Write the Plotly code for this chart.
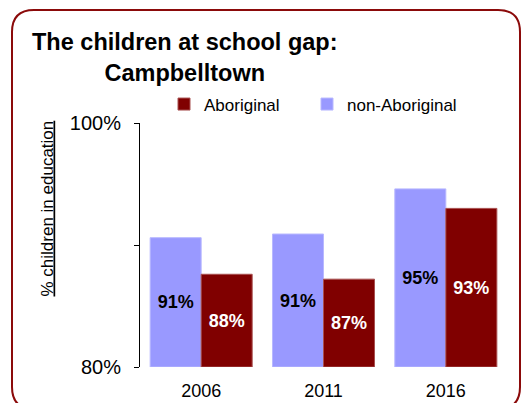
import plotly.graph_objects as go

# ---- data ----
years = ["2006", "2011", "2016"]
non_aboriginal = [90.6, 90.9, 94.6]
aboriginal = [87.6, 87.2, 93.0]
axis_floor = 80
y_tick_vals = [80, 90, 100]
y_tick_text = ["80%", "", "100%"]

# ---- layout geometry (pixels) ----
W, H = 531, 403
ML, MR, MT, MB = 140, 24, 123, 36
PW, PH = W - ML - MR, H - MT - MB


def px(x):
    return (x - ML) / PW


def py(y):
    return (H - MB - y) / PH


FONT = "Liberation Sans, Arial, sans-serif"
DARK_RED = "#800000"
LAVENDER = "#9999FF"


def bar(values, name, color, edge, txtcolor, legend):
    return go.Bar(
        x=years, y=[v - axis_floor for v in values], base=axis_floor, name=name,
        customdata=values,
        marker=dict(color=color, line=dict(color=edge, width=1)),
        text=[f"{v:.0f}%" for v in values],
        textposition="inside", insidetextanchor="middle",
        textangle=0, constraintext="none",
        insidetextfont=dict(family=FONT, size=18, color=txtcolor, weight="bold"),
        hovertemplate="%{x}: %{customdata}%<extra>" + name + "</extra>",
        legend=legend,
    )


fig = go.Figure()
fig.add_trace(bar(non_aboriginal, "non-Aboriginal", LAVENDER, "#b8b8ff", "black", "legend2"))
fig.add_trace(bar(aboriginal, "Aboriginal", DARK_RED, "#a85050", "white", "legend"))

# rounded border
x0, x1, y0, y1, r = 12, 520, 10, 409, 22
path = (
    f"M {px(x0 + r)},{py(y0)} L {px(x1 - r)},{py(y0)} "
    f"Q {px(x1)},{py(y0)} {px(x1)},{py(y0 + r)} "
    f"L {px(x1)},{py(y1 - r)} Q {px(x1)},{py(y1)} {px(x1 - r)},{py(y1)} "
    f"L {px(x0 + r)},{py(y1)} Q {px(x0)},{py(y1)} {px(x0)},{py(y1 - r)} "
    f"L {px(x0)},{py(y0 + r)} Q {px(x0)},{py(y0)} {px(x0 + r)},{py(y0)} Z"
)

legend_common = dict(
    orientation="h", yanchor="top", y=py(86.5), xanchor="left",
    font=dict(family=FONT, size=17, color="black"),
    bgcolor="rgba(0,0,0,0)", borderwidth=0,
)

fig.update_layout(
    width=W, height=H,
    margin=dict(l=ML, r=MR, t=MT, b=MB, autoexpand=False),
    paper_bgcolor="white", plot_bgcolor="white",
    font=dict(family=FONT, color="black"),
    barmode="group", bargap=0.166, bargroupgap=0,
    showlegend=True,
    legend=dict(x=px(164), **legend_common),
    legend2=dict(x=px(307), **legend_common),
    xaxis=dict(
        type="category", showline=False, ticks="", showgrid=False,
        tickfont=dict(family=FONT, size=18, color="black"),
        ticklabelstandoff=11,
    ),
    yaxis=dict(
        range=[80, 100], showline=True, linecolor="black", linewidth=1,
        ticks="outside", ticklen=5, tickcolor="black",
        tickvals=y_tick_vals, ticktext=y_tick_text,
        showgrid=False, zeroline=False,
        tickfont=dict(family=FONT, size=20, color="black"),
        ticklabelstandoff=9,
    ),
    shapes=[dict(type="path", xref="paper", yref="paper", path=path,
                 line=dict(color="#8B0A0A", width=2), fillcolor="rgba(0,0,0,0)")],
    annotations=[
        dict(text="<b>The children at school gap:<br>Campbelltown</b>",
             xref="paper", yref="paper", x=px(185), y=py(27),
             xanchor="center", yanchor="top", showarrow=False, align="center",
             font=dict(family=FONT, size=23.5, color="black")),
        dict(text="<u>% children in education</u>",
             xref="paper", yref="paper", x=px(47), y=py(208.5),
             xanchor="center", yanchor="middle", showarrow=False, textangle=-90,
             font=dict(family=FONT, size=17, color="black")),
    ],
)

fig.write_html("out.html", config={"displayModeBar": False},
               post_script="document.body.style.margin='0px';")
